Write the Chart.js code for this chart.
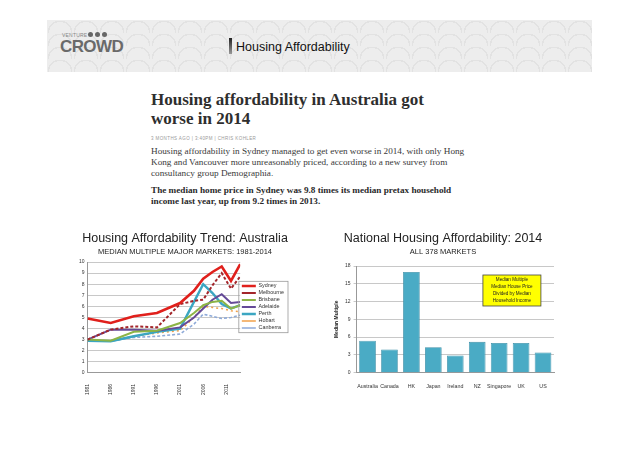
<!DOCTYPE html>
<html>
<head>
<meta charset="utf-8">
<script src="https://cdn.jsdelivr.net/npm/chart.js@4.4.1/dist/chart.umd.min.js"></script>
<style>
  body { margin: 0; width: 638px; height: 451px; background: #fff; position: relative; overflow: hidden; font-family: "Liberation Sans", Arial, sans-serif; }
  #band { position: absolute; left: 47px; top: 20px; width: 545px; height: 52px; background-color: #ededed;
    background-image: radial-gradient(circle at 50% 100%, transparent 0 11px, #e2e2e2 11px 12.5px, transparent 12.5px);
    background-size: 26px 13px; }
  #venture { position: absolute; left: 62px; top: 32px; font-size: 5px; color: #888; letter-spacing: 0.2px; }
  .dot { position: absolute; top: 32px; width: 5px; height: 5px; border-radius: 50%; background: #666; }
  #crowd { position: absolute; left: 60px; top: 37px; font-size: 17px; font-weight: bold; color: #6a6a6a; letter-spacing: -0.6px; }
  #bar { position: absolute; left: 229px; top: 38px; width: 3px; height: 16px; background: linear-gradient(#222, #999); }
  #slideTitle { position: absolute; left: 236px; top: 40px; font-size: 12.5px; color: #111; }
  #article { position: absolute; left: 151px; top: 91px; width: 318px; font-family: "Liberation Serif", "Times New Roman", serif; color: #333; }
  #article h1 { margin: 0; font-size: 17px; line-height: 18.5px; font-weight: bold; color: #2e2e2e; }
  #dateline { margin-top: 8px; font-family: "Liberation Sans", Arial, sans-serif; font-size: 4.5px; color: #999; letter-spacing: 0.4px; }
  #lead { margin-top: 5px; font-size: 9.2px; line-height: 11.2px; color: #3a3a3a; }
  #boldp { margin-top: 5px; font-size: 9.2px; line-height: 11.2px; font-weight: bold; color: #2a2a2a; }
  #leftWrap { position: absolute; left: 72px; top: 228px; width: 230px; height: 170px; }
  #rightWrap { position: absolute; left: 330px; top: 228px; width: 232px; height: 167px; }
</style>
</head>
<body>
<div id="band"></div>
<div id="venture">VENTURE</div>
<div class="dot" style="left:88px"></div>
<div class="dot" style="left:95px"></div>
<div class="dot" style="left:102px"></div>
<div id="crowd">CROWD</div>
<div id="bar"></div>
<div id="slideTitle">Housing Affordability</div>

<div id="article">
  <h1>Housing affordability in Australia got worse in 2014</h1>
  <div id="dateline">3 MONTHS AGO | 3:40PM | CHRIS KOHLER</div>
  <div id="lead">Housing affordability in Sydney managed to get even worse in 2014, with only Hong Kong and Vancouver more unreasonably priced, according to a new survey from consultancy group Demographia.</div>
  <div id="boldp">The median home price in Sydney was 9.8 times its median pretax household income last year, up from 9.2 times in 2013.</div>
</div>

<div id="leftWrap"><canvas id="trendChart"></canvas></div>
<div id="rightWrap"><canvas id="nationChart"></canvas></div>

<script>
// left chart: median multiple by city
const trendYears = [1981, 1986, 1991, 1996, 2001, 2004, 2006, 2008, 2010, 2012, 2014];
const yearTicks = [1981, 1986, 1991, 1996, 2001, 2006, 2011];
const sydney    = [4.9, 4.5, 5.1, 5.4, 6.3, 7.4, 8.5, 9.1, 9.6, 8.3, 9.8];
const melbourne = [3.0, 3.9, 4.2, 4.1, 6.2, 6.5, 6.6, 7.9, 9.0, 7.6, 8.7];
const brisbane  = [3.0, 2.9, 3.7, 3.8, 4.5, 5.4, 6.1, 6.4, 6.5, 5.8, 6.1];
const adelaide  = [3.0, 3.9, 3.9, 3.8, 4.1, 5.0, 5.8, 6.6, 7.1, 6.3, 6.4];
const perth     = [2.9, 2.85, 3.3, 3.7, 4.0, 6.4, 8.0, 7.2, 6.2, 5.8, 6.1];
const hobart    = [2.9, 2.9, 3.3, 3.6, 3.8, 5.0, 6.0, 5.9, 5.8, 5.6, 5.5];
const canberra  = [2.9, 2.85, 3.2, 3.3, 3.5, 4.4, 5.3, 5.1, 4.9, 5.0, 5.2];

// right chart: 2014 national median multiples
const countries = ['Australia', 'Canada', 'HK', 'Japan', 'Ireland', 'NZ', 'Singapore', 'UK', 'US'];
const multiples = [5.4, 3.9, 17.0, 4.3, 2.9, 5.2, 5.0, 5.0, 3.4];

const pts = vals => vals.map((v, i) => ({ x: trendYears[i], y: v }));

function line(label, vals, color, width, dash) {
  return { label: label, data: pts(vals), borderColor: color, backgroundColor: color,
    borderWidth: width, borderDash: dash || [], pointRadius: 0, tension: 0 };
}

// lift the legend a little and box round its items
const legendBox = {
  id: 'legendBox',
  afterLayout(chart) {
    chart.legend.top -= 6;
    chart.legend.bottom -= 6;
  },
  afterDraw(chart) {
    const boxes = chart.legend.legendHitBoxes, ctx = chart.ctx;
    if (!boxes || !boxes.length) return;
    const left = Math.min(...boxes.map(b => b.left)) - 3;
    const right = Math.max(...boxes.map(b => b.left + b.width)) + 4;
    const top = Math.min(...boxes.map(b => b.top)) - 2;
    const bottom = Math.max(...boxes.map(b => b.top + b.height)) + 2;
    ctx.save();
    ctx.strokeStyle = '#999';
    ctx.lineWidth = 0.8;
    ctx.strokeRect(left, top, right - left, bottom - top);
    ctx.restore();
  }
};

new Chart(document.getElementById('trendChart'), {
  type: 'line',
  data: {
    datasets: [
      line('Sydney', sydney, '#e0201c', 2.6),
      line('Melbourne', melbourne, '#a3262b', 2, [3, 2]),
      line('Brisbane', brisbane, '#8cb446', 2),
      line('Adelaide', adelaide, '#654a98', 2),
      line('Perth', perth, '#3ba6c2', 2.4),
      line('Hobart', hobart, '#f0a04a', 1.5, [2, 3]),
      line('Canberra', canberra, '#8eaad8', 1.6, [3, 2])
    ]
  },
  options: {
    responsive: true, maintainAspectRatio: false, animation: false,
    layout: { padding: { left: 4, right: 8, top: 0, bottom: 0 } },
    plugins: {
      title: { display: true, text: 'Housing Affordability Trend: Australia', color: '#222',
        font: { family: 'Liberation Sans', size: 12.5, weight: 'normal' }, padding: { top: 3, bottom: 1 } },
      subtitle: { display: true, text: 'MEDIAN MULTIPLE MAJOR MARKETS: 1981-2014', color: '#222',
        font: { family: 'Liberation Sans', size: 7.5 }, padding: { bottom: 6 } },
      legend: { position: 'right', align: 'center',
        labels: { usePointStyle: true, pointStyle: 'line', pointStyleWidth: 14, boxHeight: 4,
          padding: 1.6, color: '#333', font: { family: 'Liberation Sans', size: 5.4 } } },
      tooltip: { enabled: false }
    },
    scales: {
      x: { type: 'linear', min: 1981, max: 2014,
        afterBuildTicks: axis => { axis.ticks = yearTicks.map(v => ({ value: v })); },
        grid: { display: false },
        border: { color: '#999' },
        ticks: { maxRotation: 90, minRotation: 90, autoSkip: false, color: '#333',
          font: { family: 'Liberation Sans', size: 5 }, callback: v => String(v) } },
      y: { min: 0, max: 10, ticks: { stepSize: 1, color: '#333', padding: 3,
          font: { family: 'Liberation Sans', size: 5 } },
        grid: { color: '#c8c8c8', drawTicks: false }, border: { color: '#999' } }
    }
  },
  plugins: [legendBox]
});

const noteBox = {
  id: 'noteBox',
  afterDraw(chart) {
    const a = chart.chartArea, ctx = chart.ctx;
    const w = 58, h = 31;
    const x = a.left + (a.right - a.left) * 0.64, y = a.top + 9;
    ctx.save();
    ctx.fillStyle = '#ffff00';
    ctx.fillRect(x, y, w, h);
    ctx.strokeStyle = '#444';
    ctx.lineWidth = 0.8;
    ctx.strokeRect(x, y, w, h);
    ctx.fillStyle = '#222';
    ctx.font = '4.6px "Liberation Sans"';
    ctx.textAlign = 'center';
    ctx.textBaseline = 'middle';
    ['Median Multiple', 'Median House Price', 'Divided by Median', 'Household Income']
      .forEach((t, i) => ctx.fillText(t, x + w / 2, y + 5 + i * 7));
    ctx.restore();
  }
};

new Chart(document.getElementById('nationChart'), {
  type: 'bar',
  data: {
    labels: countries,
    datasets: [{ label: 'Median Multiple', data: multiples, backgroundColor: '#4aabc5',
      borderColor: '#3d8ea6', borderWidth: 0.8, barPercentage: 0.76, categoryPercentage: 1 }]
  },
  options: {
    responsive: true, maintainAspectRatio: false, animation: false,
    layout: { padding: { left: 2, right: 8, top: 0, bottom: 2 } },
    plugins: {
      title: { display: true, text: 'National Housing Affordability: 2014', color: '#222',
        font: { family: 'Liberation Sans', size: 12.5, weight: 'normal' }, padding: { top: 3, bottom: 1 } },
      subtitle: { display: true, text: 'ALL 378 MARKETS', color: '#222',
        font: { family: 'Liberation Sans', size: 7.5 }, padding: { bottom: 10 } },
      legend: { display: false },
      tooltip: { enabled: false }
    },
    scales: {
      x: { grid: { display: false }, border: { color: '#999' },
        ticks: { color: '#333', font: { family: 'Liberation Sans', size: 5.3 }, autoSkip: false, maxRotation: 0 } },
      y: { min: 0, max: 18, ticks: { stepSize: 3, color: '#333', padding: 3,
          font: { family: 'Liberation Sans', size: 5 } },
        title: { display: true, text: 'Median Multiple', color: '#222',
          font: { family: 'Liberation Sans', size: 5, weight: 'bold' }, padding: 2 },
        grid: { color: '#c8c8c8', tickLength: 3 }, border: { color: '#999' } }
    }
  },
  plugins: [noteBox]
});
</script>
</body>
</html>
